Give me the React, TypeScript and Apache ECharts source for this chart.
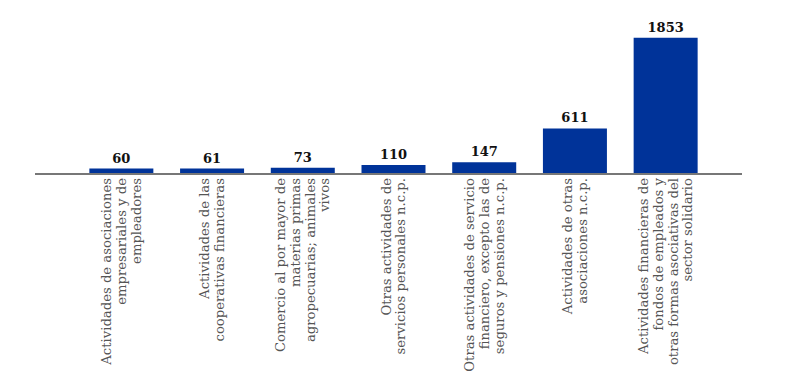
import React, { useEffect, useRef } from "react";
import * as echarts from "echarts";

const categories: string[] = [
  "Actividades de asociaciones\nempresariales y de\nempleadores",
  "Actividades de las\ncooperativas financieras",
  "Comercio al por mayor de\nmaterias primas\nagropecuarias; animales\nvivos",
  "Otras actividades de\nservicios personales n.c.p.",
  "Otras actividades de servicio\nfinanciero, excepto las de\nseguros y pensiones n.c.p.",
  "Actividades de otras\nasociaciones n.c.p.",
  "Actividades financieras de\nfondos de empleados y\notras formas asociativas del\nsector solidario",
];
const values: number[] = [60, 61, 73, 110, 147, 611, 1853];

export default function App() {
  const ref = useRef<HTMLDivElement>(null);
  useEffect(() => {
    if (!ref.current) return;
    const chart = echarts.init(ref.current, null, { renderer: "svg" });
    chart.setOption({
      animation: false,
      grid: { left: 76, right: 96, top: 27, height: 146 },
      xAxis: {
        type: "category",
        data: categories,
        axisLine: { show: false },
        axisTick: { show: false },
        axisLabel: {
          rotate: 90,
          interval: 0,
          margin: 5,
          fontFamily: "DejaVu Serif",
          fontSize: 13.2,
          lineHeight: 14.8,
          color: "#555555",
        },
      },
      yAxis: {
        type: "value",
        min: 0,
        max: 2000,
        show: false,
        splitLine: { show: false },
      },
      series: [
        {
          type: "bar",
          data: values,
          barWidth: 64,
          itemStyle: { color: "#003399" },
          label: {
            show: true,
            position: "top",
            distance: 4,
            fontFamily: "DejaVu Serif",
            fontWeight: "bold",
            fontSize: 13,
            color: "#111111",
          },
        },
      ],
      graphic: [
        {
          type: "line",
          shape: { x1: 35, y1: 174, x2: 742, y2: 174 },
          style: { stroke: "#4a4a4a", lineWidth: 1.6 },
          z: 10,
        },
      ],
    });
    return () => chart.dispose();
  }, []);
  return (
    <div
      ref={ref}
      style={{ position: "absolute", left: 0, top: 0, width: 807, height: 380 }}
    />
  );
}
